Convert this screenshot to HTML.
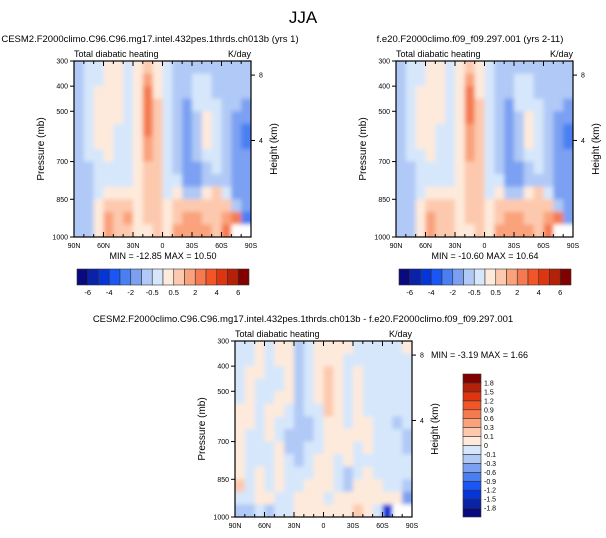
<!DOCTYPE html>
<html><head><meta charset="utf-8"><style>
html,body{margin:0;padding:0;background:#fff;}
svg{display:block;font-family:"Liberation Sans",sans-serif;}
</style></head><body>
<svg id="chart" width="606" height="538" viewBox="0 0 606 538">
<defs>
<filter id="soft" x="-5%" y="-5%" width="110%" height="110%"><feGaussianBlur stdDeviation="2.2"/></filter>
<clipPath id="clipA"><rect x="74" y="61" width="177" height="176"/></clipPath>
<clipPath id="clipB"><rect x="396" y="61" width="177" height="176"/></clipPath>
<clipPath id="clipC"><rect x="235" y="341" width="177" height="176"/></clipPath>
</defs>
<text x="303" y="23" font-size="17" text-anchor="middle">JJA</text>
<g id="panels"></g>
</svg>
<script>
const latLabels = ["90N","60N","30N","0","30S","60S","90S"];
const pressureTicks = [300,400,500,700,850,1000];
const heightTicks = [8,4];
const heightTickPressure = [356,616];
const levelsAbs = [-6,-5,-4,-3,-2,-1,-0.5,0,0.5,1,2,3,4,5,6];
const levelsAbsLabels = ["-6","","-4","","-2","","-0.5","","0.5","","2","","4","","6"];
const levelsDiff = [-1.8,-1.5,-1.2,-0.9,-0.6,-0.3,-0.1,0,0.1,0.3,0.6,0.9,1.2,1.5,1.8];
const levelsDiffLabels = ["-1.8","-1.5","-1.2","-0.9","-0.6","-0.3","-0.1","0","0.1","0.3","0.6","0.9","1.2","1.5","1.8"];
const colors = ["#0a0a80","#0a22a8","#0535d8","#1a55f5","#4a7ff2","#7ba0f2","#b0c9f6","#d6e7fb","#feeadb","#fdc9ae","#f9a27c","#f57a50","#f25526","#de3410","#b32208","#820000"];
const N = NaN;
const fieldA = [
[-0.7,-0.2,-0.2,0.2,0.2,-0.2,0.2,0.7,0.2,-0.2,-0.7,-0.7,-0.7,-0.7,-0.7,-0.7,-0.7,-0.7],
[-0.7,-0.2,-0.2,0.2,0.2,-0.2,0.2,1.5,0.2,-0.2,-0.7,-0.7,-0.2,-0.2,-0.7,-0.7,-0.7,-0.7],
[-0.7,-0.2,0.2,0.2,0.2,-0.2,0.2,2.5,0.2,-0.2,-0.7,-0.7,-0.2,-0.2,-0.7,-0.7,-0.7,-0.7],
[-0.7,-0.2,0.2,0.2,0.2,-0.2,0.2,2.5,0.7,-0.2,-0.7,-1.5,-0.2,-0.2,-0.2,-0.7,-0.7,-1.5],
[-0.7,-0.2,0.2,0.2,0.2,-0.2,0.2,2.5,0.7,-0.2,-0.7,-1.5,-0.7,0.2,-0.2,-0.7,-1.5,-1.5],
[-0.7,-0.2,0.2,0.2,-0.2,-0.2,0.2,2.5,0.7,-0.2,-0.7,-1.5,-0.7,0.2,-0.2,-0.7,-1.5,-2.5],
[-0.7,-0.2,0.2,0.2,-0.2,-0.2,0.2,1.5,0.7,-0.2,-0.7,-1.5,-0.7,0.2,-0.2,-0.7,-1.5,-2.5],
[-0.7,-0.2,-0.2,0.2,-0.2,-0.2,0.2,1.5,0.7,-0.2,-0.7,-1.5,-0.7,-0.2,-0.2,-0.7,-1.5,-1.5],
[-0.7,-0.7,-0.2,-0.2,-0.2,-0.2,0.2,0.7,0.7,-0.2,-0.7,-1.5,-1.5,-0.7,-0.2,-0.7,-1.5,-1.5],
[-0.7,-0.7,-0.2,-0.2,-0.2,-0.2,0.2,0.7,0.7,-0.2,-0.2,-1.5,-1.5,-0.7,-0.7,-0.7,-1.5,-1.5],
[-0.7,-0.7,-0.2,0.2,0.2,0.2,0.2,0.7,0.7,-0.2,0.2,-0.7,-0.7,0.2,0.7,-0.2,-1.5,-1.5],
[-0.7,-0.7,0.2,0.7,0.7,0.7,0.2,0.7,0.7,0.2,0.7,0.7,0.7,0.7,0.7,0.7,-0.7,-1.5],
[-0.7,-0.7,0.2,1.5,0.7,1.5,0.2,0.7,0.7,0.2,0.7,1.5,1.5,0.7,0.7,1.5,2.5,-2.5],
[-0.7,-0.7,0.2,1.5,0.7,0.7,0.2,0.2,0.7,0.2,1.5,1.5,1.5,1.5,0.7,2.5,N,N]
];
const fieldB = [
[-0.7,-0.2,-0.2,0.2,0.2,-0.2,0.2,0.7,0.2,-0.2,-0.7,-0.7,-0.7,-0.7,-0.7,-0.7,-0.7,-0.7],
[-0.7,-0.2,-0.2,0.2,0.2,-0.2,0.2,1.5,0.2,-0.2,-0.7,-0.7,-0.2,-0.2,-0.7,-0.7,-0.7,-0.7],
[-0.7,-0.2,0.2,0.2,0.2,-0.2,0.2,2.5,0.2,-0.2,-0.7,-0.7,-0.2,-0.2,-0.7,-0.7,-0.7,-0.7],
[-0.7,-0.2,0.2,0.2,0.2,-0.2,0.2,2.5,0.7,-0.2,-0.7,-1.5,-0.2,-0.2,-0.2,-0.7,-0.7,-1.5],
[-0.7,-0.2,0.2,0.2,0.2,-0.2,0.2,2.5,0.7,-0.2,-0.7,-1.5,-0.7,0.2,-0.2,-0.7,-1.5,-1.5],
[-0.7,-0.2,0.2,0.2,-0.2,-0.2,0.2,1.5,0.7,-0.2,-0.7,-1.5,-0.7,0.2,-0.2,-0.7,-1.5,-2.5],
[-0.7,-0.2,0.2,0.2,-0.2,-0.2,0.2,1.5,0.7,-0.2,-0.7,-1.5,-0.7,0.2,-0.2,-0.7,-1.5,-2.5],
[-0.7,-0.2,-0.2,0.2,-0.2,-0.2,0.2,1.5,0.7,-0.2,-0.7,-1.5,-0.7,-0.2,-0.2,-0.7,-1.5,-1.5],
[-0.7,-0.7,-0.2,-0.2,-0.2,-0.2,0.2,0.7,0.7,-0.2,-0.7,-1.5,-1.5,-0.7,-0.2,-0.7,-1.5,-1.5],
[-0.7,-0.7,-0.2,-0.2,-0.2,-0.2,0.2,0.7,0.7,-0.2,-0.2,-1.5,-1.5,-0.7,-0.7,-0.7,-1.5,-1.5],
[-0.7,-0.7,-0.2,0.2,0.2,0.2,0.2,0.7,0.7,-0.2,0.2,-0.7,-0.7,0.2,0.7,-0.2,-1.5,-1.5],
[-0.7,-0.7,0.2,0.7,0.7,0.7,0.2,0.7,0.7,0.2,0.7,0.7,0.7,0.7,0.7,0.7,-0.7,-1.5],
[-0.7,-0.7,0.2,1.5,0.7,0.7,0.2,0.7,0.7,0.2,0.7,1.5,1.5,0.7,0.7,1.5,2.5,-1.5],
[-0.7,-0.7,0.2,1.5,0.7,0.7,0.2,0.2,0.7,0.2,1.5,1.5,1.5,1.5,0.7,2.5,N,N]
];
const fieldC = [
[-0.05,-0.05,0.05,-0.05,0.05,0.05,-0.2,-0.05,0.05,0.05,0.05,0.05,-0.05,-0.05,-0.05,-0.05,-0.05,0.05],
[-0.05,-0.05,0.05,-0.05,0.05,0.05,-0.2,-0.05,0.05,0.05,0.05,-0.05,-0.05,-0.05,-0.05,-0.05,-0.05,-0.05],
[-0.05,0.05,0.05,-0.05,-0.05,0.05,-0.2,-0.05,0.05,0.2,0.05,-0.05,0.05,-0.05,-0.05,-0.05,-0.05,-0.05],
[-0.05,0.05,-0.05,-0.05,-0.05,0.05,-0.2,-0.05,0.05,0.2,0.05,-0.05,0.05,-0.05,-0.05,-0.05,-0.05,-0.05],
[-0.05,0.05,-0.05,-0.05,0.05,0.05,-0.2,-0.05,0.05,0.2,0.05,-0.05,0.05,-0.05,-0.05,-0.05,-0.05,-0.05],
[0.05,0.05,-0.05,0.05,0.05,-0.05,-0.2,-0.05,-0.05,0.2,0.05,-0.05,0.05,-0.05,-0.05,-0.05,-0.05,-0.05],
[0.05,0.05,-0.05,0.05,-0.05,-0.05,-0.2,-0.2,-0.05,0.05,0.05,-0.05,0.05,0.05,-0.05,-0.05,-0.2,-0.05],
[0.05,-0.05,-0.05,0.05,-0.05,-0.2,-0.2,-0.2,-0.05,0.05,0.05,0.05,0.05,0.05,-0.05,-0.05,-0.05,-0.2],
[0.05,-0.05,-0.05,-0.05,0.05,-0.2,-0.2,-0.05,-0.05,0.05,0.05,0.05,-0.05,0.05,-0.05,-0.05,-0.05,-0.2],
[0.05,-0.05,-0.05,-0.05,0.05,-0.05,-0.2,-0.05,0.05,0.05,-0.05,0.05,-0.05,-0.05,-0.05,-0.05,-0.05,-0.05],
[0.05,-0.05,0.05,-0.05,0.05,-0.05,-0.05,-0.05,0.05,0.05,-0.05,-0.2,-0.05,0.05,-0.05,-0.05,-0.05,-0.05],
[0.2,-0.05,0.05,-0.05,0.05,-0.05,-0.05,0.05,0.05,0.05,-0.05,-0.2,0.05,0.05,0.05,-0.05,-0.05,-0.2],
[-0.05,-0.05,0.05,0.05,-0.05,-0.05,0.05,0.05,0.05,-0.05,0.05,0.05,0.05,0.05,0.05,0.05,0.05,-0.5],
[-0.2,-0.2,-0.05,-0.2,-0.05,-0.05,0.05,0.05,0.05,0.05,0.05,0.05,0.2,0.05,-0.05,-1.3,N,N]
];

const NS = "http://www.w3.org/2000/svg";
const root = document.getElementById("panels");
const W = 177, H = 176;
function mk(tag, attrs, parent, txt){
  const e = document.createElementNS(NS, tag);
  for (const k in attrs) e.setAttribute(k, attrs[k]);
  if (txt !== undefined) e.textContent = txt;
  parent.appendChild(e);
  return e;
}
function colorFor(v, levels){
  let i = 0;
  while (i < levels.length && v >= levels[i]) i++;
  return colors[i];
}
function drawPanel(ox, oy, field, levels, title, minmax, mmPos, clipId){
  const g = mk("g", {}, root);
  
  
  const clipG = mk("g", {"clip-path": "url(#" + clipId + ")"}, g);
  const cells = mk("g", {filter: "url(#soft)"}, clipG);
  const nr = field.length, nc = field[0].length;
  const xs = i => ox + i * W / nc;
  const yP = p => oy + (p - 300) / 700 * H;
  for (let r = 0; r < nr; r++){
    for (let c = 0; c < nc; c++){
      const v = field[r][c];
      const p0 = 300 + r * 700 / nr, p1 = 300 + (r + 1) * 700 / nr;
      let x = xs(c), w = W/nc + 0.4, y = yP(p0), h = yP(p1) - yP(p0) + 0.4;
      if (c === 0) { x -= 6; w += 6; }
      if (c === nc - 1) { w += 6; }
      if (r === 0) { y -= 6; h += 6; }
      if (r === nr - 1) { h += 6; }
      const rc = mk("rect", {x: x.toFixed(2), y: y.toFixed(2), width: w.toFixed(2), height: h.toFixed(2), fill: isNaN(v) ? "#ffffff" : colorFor(v, levels)}, cells);
      
      
    }
  }
  const fr = mk("rect", {x: ox, y: oy, width: W, height: H, fill: "none", stroke: "#000", "stroke-width": 1.2}, g);
  
  
  for (let d = 0; d <= 18; d++){
    const x = ox + d * W / 18;
    const len = d % 3 === 0 ? 5 : 3;
    mk("line", {x1: x, y1: oy + H, x2: x, y2: oy + H - len, stroke: "#000", "stroke-width": 1}, g);
    mk("line", {x1: x, y1: oy, x2: x, y2: oy + len, stroke: "#000", "stroke-width": 1}, g);
  }
  latLabels.forEach((l, i) => {
    const t = mk("text", {x: ox + i * W / 6, y: oy + H + 11, "font-size": 7, "text-anchor": "middle"}, g, l);
    
    
  });
  pressureTicks.forEach(p => {
    const y = yP(p);
    mk("line", {x1: ox - 4, y1: y, x2: ox, y2: y, stroke: "#000", "stroke-width": 1}, g);
    const t = mk("text", {x: ox - 6, y: y + 2.5, "font-size": 7, "text-anchor": "end"}, g, String(p));
    
    
  });
  heightTicks.forEach((h, i) => {
    const y = yP(heightTickPressure[i]);
    mk("line", {x1: ox + W, y1: y, x2: ox + W + 4, y2: y, stroke: "#000", "stroke-width": 1}, g);
    const t = mk("text", {x: ox + W + 8, y: y + 2.5, "font-size": 7}, g, String(h));
    
    
  });
  const yl = mk("text", {x: 0, y: 0, "font-size": 10, "text-anchor": "middle", transform: `translate(${ox - 30},${oy + H/2}) rotate(-90)`}, g, "Pressure (mb)");
  
  
  const hl = mk("text", {x: 0, y: 0, "font-size": 10, "text-anchor": "middle", transform: `translate(${ox + W + 26},${oy + H/2}) rotate(-90)`}, g, "Height (km)");
  
  
  const vt = mk("text", {x: ox, y: oy - 4, "font-size": 9}, g, "Total diabatic heating");
  
  
  const ut = mk("text", {x: ox + W, y: oy - 4, "font-size": 9, "text-anchor": "end"}, g, "K/day");
  
  
  const tt = mk("text", {x: title[1], y: oy - 19, "font-size": 9.5, "text-anchor": "middle"}, g, title[0]);
  
  
  const mm = mk("text", {x: mmPos[0], y: mmPos[1], "font-size": 9, "text-anchor": mmPos[2]}, g, minmax);
  
  
}
function hColorbar(x0, y0, w, h, labels){
  const g = mk("g", {}, root);
  
  
  const bw = w / colors.length;
  colors.forEach((c, i) => {
    const r = mk("rect", {x: x0 + i * bw, y: y0, width: bw, height: h, fill: c, stroke: "#333", "stroke-width": 0.6}, g);
    
    
  });
  labels.forEach((l, i) => {
    if (!l) return;
    const t = mk("text", {x: x0 + (i + 1) * bw, y: y0 + h + 10, "font-size": 7.5, "text-anchor": "middle"}, g, l);
    
    
  });
}
function vColorbar(x0, y0, w, h, labels){
  const g = mk("g", {}, root);
  
  
  const bh = h / colors.length;
  colors.forEach((c, i) => {
    const r = mk("rect", {x: x0, y: y0 + h - (i + 1) * bh, width: w, height: bh, fill: c, stroke: "#333", "stroke-width": 0.6}, g);
    
    
  });
  labels.forEach((l, i) => {
    const t = mk("text", {x: x0 + w + 3, y: y0 + h - (i + 1) * bh + 2.5, "font-size": 7}, g, l);
    
    
  });
}
drawPanel(74, 61, fieldA, levelsAbs, ["CESM2.F2000climo.C96.C96.mg17.intel.432pes.1thrds.ch013b (yrs 1)", 150], "MIN = -12.85  MAX =  10.50", [163, 259, "middle"], "clipA");
drawPanel(396, 61, fieldB, levelsAbs, ["f.e20.F2000climo.f09_f09.297.001 (yrs 2-11)", 470], "MIN = -10.60  MAX =  10.64", [485, 259, "middle"], "clipB");
drawPanel(235, 341, fieldC, levelsDiff, ["CESM2.F2000climo.C96.C96.mg17.intel.432pes.1thrds.ch013b - f.e20.F2000climo.f09_f09.297.001", 303], "MIN =  -3.19  MAX =   1.66", [431, 358, "start"], "clipC");
hColorbar(77, 269, 172, 16, levelsAbsLabels);
hColorbar(399, 269, 172, 16, levelsAbsLabels);
vColorbar(463, 374, 18, 143, levelsDiffLabels);
</script>
</body></html>
